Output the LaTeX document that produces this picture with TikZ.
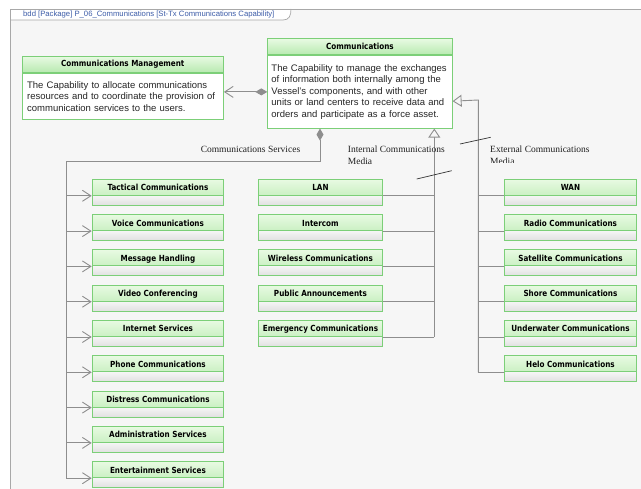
\documentclass[tikz,border=0pt]{standalone}
\usepackage{fontspec}
\setmainfont{Liberation Sans}
\newfontfamily\hdrfont{DejaVu Sans}[FakeStretch=0.86]
\newfontfamily\lblfont{Liberation Serif}
\usetikzlibrary{arrows.meta,calc}
\definecolor{boxgreen}{HTML}{7CCF78}
\definecolor{hdrtop}{HTML}{E8FAE2}
\definecolor{hdrbot}{HTML}{B8EAB0}
\definecolor{comptop}{HTML}{F6F6F6}
\definecolor{compbot}{HTML}{E0E0E0}
\definecolor{conngray}{HTML}{8E8E8E}
\definecolor{framebg}{HTML}{F6F6F6}
\definecolor{frameline}{HTML}{A8A8A8}
\definecolor{titleblue}{HTML}{3C5CA8}
\definecolor{lbltext}{HTML}{202020}
\tikzset{
  hdrtext/.style={font=\hdrfont\bfseries\fontsize{8.4}{10}\selectfont, text=black},
  smallbox/.style={draw=boxgreen, line width=0.9pt, anchor=north west, inner sep=0pt,
    minimum height=26pt, text height=11.5pt, text depth=14.5pt, hdrtext,
    path picture={
      \fill[top color=hdrtop, bottom color=hdrbot] (path picture bounding box.north west) rectangle ($(path picture bounding box.north east)+(0,16)$);
      \fill[top color=comptop, bottom color=compbot] ($(path picture bounding box.north west)+(0,16)$) rectangle (path picture bounding box.south east);
      \draw[boxgreen, line width=0.9pt] ($(path picture bounding box.north west)+(0,16)$) -- ($(path picture bounding box.north east)+(0,16)$);
    }},
  bighead/.style={draw=boxgreen, line width=0.9pt, anchor=north west, inner sep=0pt,
    minimum height=16pt, text height=10.5pt, text depth=5.5pt, top color=hdrtop, bottom color=hdrbot, hdrtext},
  bigbody/.style={draw=boxgreen, line width=0.9pt, anchor=north west, fill=white, inner ysep=2pt,
    align=left, font=\fontsize{9.5}{11.6}\selectfont, text=black!85},
  conn/.style={draw=conngray, line width=0.9pt},
  lbl/.style={font=\lblfont\fontsize{9.5}{12}\selectfont, text=lbltext, inner sep=0pt},
  tickline/.style={draw=black!80, line width=0.7pt},
  vee/.tip={Straight Barb[length=8.5pt,width=11pt]},
  dmd/.tip={Diamond[length=12pt,width=7pt,fill=conngray]},
  tri/.tip={Triangle[length=9pt,width=12pt,fill=framebg]}
}
\begin{document}
\begin{tikzpicture}[x=1pt,y=-1pt]
\useasboundingbox (0,0) rectangle (641,489);
\fill[white] (0,0) rectangle (641,489);
% frame
\fill[framebg] (10,9) rectangle (641,489);
\fill[white] (10,9) -- (291,9) .. controls (291,16) and (289,20) .. (283,20) -- (10,20) -- cycle;
\draw[frameline, line width=0.7pt] (291,9) .. controls (291,16) and (289,20) .. (283,20) -- (10,20);
\draw[frameline, line width=0.7pt] (641,9) -- (10,9) -- (10,489);
\node[anchor=west, inner sep=0pt, font=\fontsize{7.7}{9}\selectfont, text=titleblue] (title) at (23,14.5) {bdd [Package] P\_06\_Communications [St-Tx Communications Capability]};

% big boxes
\node[bighead, minimum width=201.3pt] (cmhead) at (21.7,56) {Communications Management};
\node[bigbody, minimum width=201.3pt, minimum height=46.5pt, inner xsep=5pt, text width=191.3pt] (cm) at (cmhead.south west)
  {\mbox{The Capability to allocate communications}\\\mbox{resources and to coordinate the provision of}\\\mbox{communication services to the users.}};
\node[bighead, minimum width=184.4pt] (commhead) at (267.3,38.3) {Communications};
\node[bigbody, minimum width=184.4pt, minimum height=72.5pt, inner xsep=3.7pt, text width=177pt] (comm) at (commhead.south west)
  {\mbox{The Capability to manage the exchanges}\\\mbox{of information both internally among the}\\\mbox{Vessel's components, and with other}\\\mbox{units or land centers to receive data and}\\\mbox{orders and participate as a force asset.}};

% CM -- Communications
\draw[conn, vee-dmd] (comm.west -| cm.east) -- (comm.west);

% Communications Services
\coordinate (csrc) at ($(comm.south west)+(52.7,0)$);
\coordinate (lsplit) at (66,161.7);
\foreach \nm/\txt [count=\i from 0] in {tac/Tactical Communications, voice/Voice Communications, msg/Message Handling, video/Video Conferencing, inet/Internet Services, phone/Phone Communications, distress/Distress Communications, admin/Administration Services, ent/Entertainment Services}{
  \node[smallbox, minimum width=131.6pt] (\nm) at (91.7,178.8+35.3*\i) {\txt};
  \coordinate (\nm-c) at ($(\nm.north west)+(0,17)$);
  \draw[conn, -vee] (\nm-c -| lsplit) -- (\nm-c);
}
\draw[conn, dmd-] (csrc) |- (lsplit) -- (ent-c -| lsplit);
\node[lbl, anchor=base] (cslabel) at (250.5,152.5) {Communications Services};

% Internal Communications Media
\coordinate (itgt) at ($(comm.south west)+(167,0)$);
\foreach \nm/\txt [count=\i from 0] in {lan/LAN, intercom/Intercom, wireless/Wireless Communications, pa/Public Announcements, emerg/Emergency Communications}{
  \node[smallbox, minimum width=123.4pt] (\nm) at (258.3,178.8+35.3*\i) {\txt};
  \coordinate (\nm-c) at ($(\nm.north east)+(0,17)$);
  \draw[conn] (\nm-c) -- (\nm-c -| itgt);
}
\draw[conn, -tri] (emerg-c -| itgt) -- (itgt);
\node[lbl, anchor=north west, align=left] (intlabel) at (347.7,145.6) {Internal Communications\\Media};

% External Communications Media
\coordinate (etgt) at ($(comm.north east)+(0,46)$);
\coordinate (ecorner) at (478.3,100);
\foreach \nm/\txt [count=\i from 0] in {wan/WAN, radio/Radio Communications, sat/Satellite Communications, shore/Shore Communications, under/Underwater Communications, helo/Helo Communications}{
  \node[smallbox, minimum width=131.4pt] (\nm) at (504.3,178.8+35.3*\i) {\txt};
  \coordinate (\nm-c) at ($(\nm.north west)+(0,17)$);
  \draw[conn] (\nm-c -| ecorner) -- (\nm-c);
}
\draw[conn, -tri] (helo-c -| ecorner) -- (ecorner) -- (etgt);
\begin{scope}
  \clip (485,130) rectangle (641,162.5);
  \node[lbl, anchor=north west, align=left] (extlabel) at (490,145.6) {External Communications\\Media};
\end{scope}

% role ticks
\draw[tickline] (460,144) -- (490.7,137.3);
\draw[tickline] (416.7,179) -- (451.7,170.7);
\end{tikzpicture}
\end{document}
